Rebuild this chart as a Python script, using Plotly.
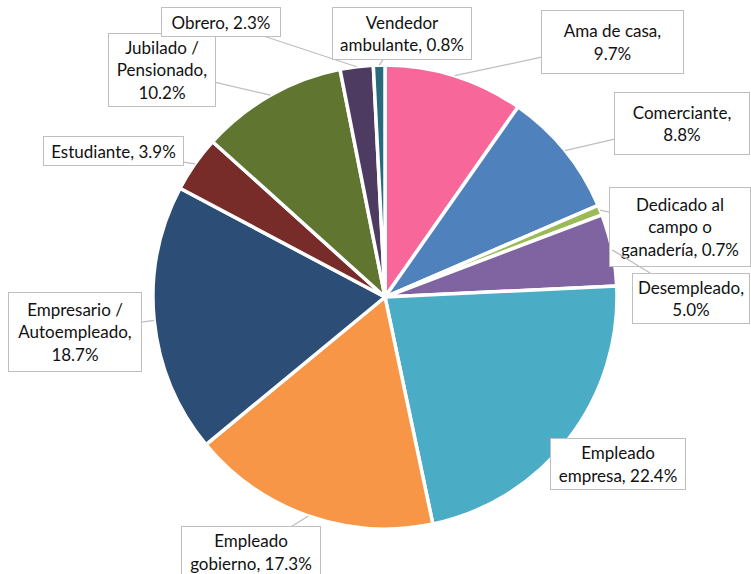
import math
import plotly.graph_objects as go

# ---- data ----
categories = ["Ama de casa", "Comerciante", "Dedicado al campo o ganadería", "Desempleado",
              "Empleado empresa", "Empleado gobierno", "Empresario / Autoempleado",
              "Estudiante", "Jubilado / Pensionado", "Obrero", "Vendedor ambulante"]
values = [9.7, 8.8, 0.7, 5.0, 22.4, 17.3, 18.7, 3.9, 10.2, 2.3, 0.8]
label_prefix = ["Ama de casa,<br>", "Comerciante,<br>", "Dedicado al<br>campo o<br>ganadería, ",
                "Desempleado,<br>", "Empleado<br>empresa, ", "Empleado<br>gobierno, ",
                "Empresario /<br>Autoempleado,<br>", "Estudiante, ", "Jubilado /<br>Pensionado,<br>",
                "Obrero, ", "Vendedor<br>ambulante, "]
colors = ["#F8679A", "#4F81BD", "#9BBB59", "#8064A2", "#4BACC6", "#F79646",
          "#2C4D75", "#772C2A", "#5F7530", "#4D3B62", "#276A7C"]

# ---- layout (pixels) ----
W, H = 751, 574
cx, cy, r = 385, 297, 232
box_cx = [612.5, 682.0, 680.0, 691.0, 618.0, 251.0, 75.0, 113.5, 162.0, 221.0, 402.0]
box_cy = [42.0, 123.5, 227.0, 298.0, 464.0, 552.0, 332.0, 151.0, 70.0, 22.0, 33.5]
box_w = [143, 136, 142, 118, 136, 140, 134, 141, 108, 120, 140]
box_h = [64, 63, 80, 51, 52, 52, 80, 30, 74, 30, 53]
show_leader = [True, True, True, True, False, True, True, True, True, True, True]

fig = go.Figure()
fig.add_trace(go.Pie(
    labels=categories, values=values, sort=False, direction="clockwise", rotation=0,
    marker=dict(colors=colors, line=dict(color="white", width=3.5)),
    textinfo="none", hoverinfo="label+percent", showlegend=False,
    domain=dict(x=[(cx - r) / W, (cx + r) / W], y=[(H - cy - r) / H, (H - cy + r) / H]),
))
fig.add_trace(go.Scatter(x=[], y=[], showlegend=False, hoverinfo="skip"))

total = sum(values)
cum = 0.0
for i, v in enumerate(values):
    mid = (cum + v / 2) / total * 2 * math.pi
    cum += v
    tx = cx + r * math.sin(mid)
    ty = cy - r * math.cos(mid)
    text = label_prefix[i] + f"{v:.1f}%"
    common = dict(
        xref="x", yref="y", text=text,
        width=box_w[i] - 2, height=box_h[i] - 2,
        borderwidth=1, borderpad=0, bordercolor="#BFBFBF", bgcolor="white",
        font=dict(family="Lato", size=17, color="#111111"), align="center",
    )
    if show_leader[i]:
        fig.add_annotation(x=tx, y=ty, ax=box_cx[i], ay=box_cy[i], axref="x", ayref="y",
                           showarrow=True, arrowhead=0, arrowwidth=1.3, arrowcolor="#BFBFBF",
                           **common)
    else:
        fig.add_annotation(x=box_cx[i], y=box_cy[i], showarrow=False, **common)

fig.update_layout(
    width=W, height=H, margin=dict(l=0, r=0, t=0, b=0),
    paper_bgcolor="white", plot_bgcolor="white",
    xaxis=dict(range=[0, W], visible=False, fixedrange=True),
    yaxis=dict(range=[H, 0], visible=False, fixedrange=True),
)
fig.write_html("out.html", config={"displayModeBar": False},
               post_script="document.body.style.margin='0';document.body.style.overflow='hidden';")
